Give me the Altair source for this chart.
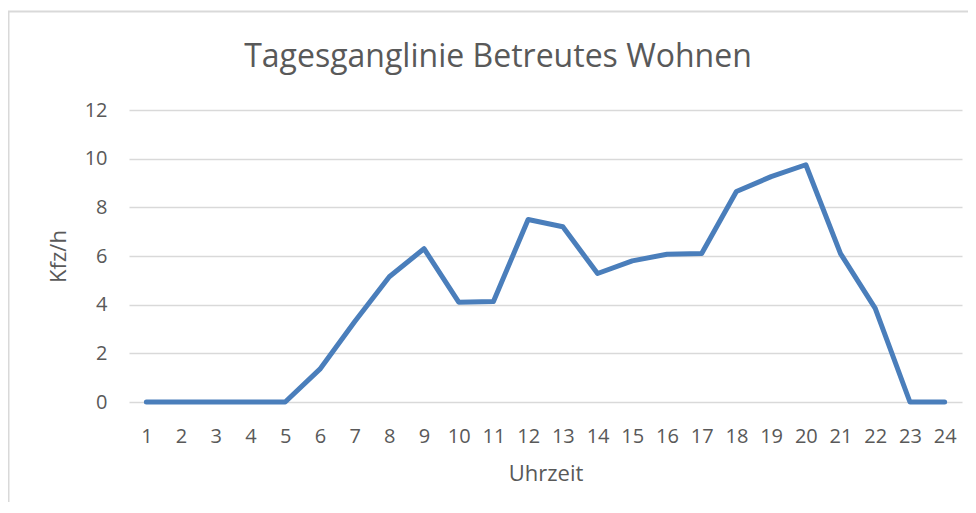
import altair as alt
import pandas as pd

hours = [str(h) for h in range(1, 25)]
kfz_per_h = [0, 0, 0, 0, 0, 1.35, 3.3, 5.15, 6.3, 4.1, 4.13, 7.5, 7.2, 5.28,
             5.8, 6.07, 6.1, 8.65, 9.26, 9.75, 6.1, 3.85, 0, 0]

title_text = "Tagesganglinie Betreutes Wohnen"
x_title = "Uhrzeit"
y_title = "Kfz/h"

df = pd.DataFrame({"Uhrzeit": hours, "Kfz": kfz_per_h})

FONT = "Open Sans"
GREY = "#595959"

one = pd.DataFrame({"t": [title_text]})

border = alt.Chart(one).mark_rect(
    fill=None, stroke="#d9d9d9", strokeWidth=2
).encode(
    x=alt.value(-120.5), x2=alt.value(880), y=alt.value(-98.5), y2=alt.value(420)
)

title = alt.Chart(one).mark_text(
    font=FONT, fontSize=32, color=GREY, align="center", baseline="alphabetic"
).encode(
    text="t:N", x=alt.value(369), y=alt.value(-43)
)

line = alt.Chart(df).mark_line(
    color="#4a7ebb", strokeWidth=5, strokeCap="round", strokeJoin="round"
).encode(
    x=alt.X("Uhrzeit:O", sort=hours,
            scale=alt.Scale(type="point", padding=0.5),
            axis=alt.Axis(title=x_title, labelAngle=0, labelPadding=24,
                          titlePadding=17, ticks=False, domain=False, grid=False)),
    y=alt.Y("Kfz:Q", scale=alt.Scale(domain=[0, 12], nice=False),
            axis=alt.Axis(title=y_title, values=[0, 2, 4, 6, 8, 10, 12],
                          labelPadding=22, titlePadding=14, ticks=False,
                          domain=False, gridColor="#d9d9d9", gridWidth=1.5)),
)

chart = alt.layer(border, title, line).properties(
    width=833, height=292,
    autosize=alt.AutoSizeParams(type="none"),
    padding={"left": 121, "top": 102, "right": 6, "bottom": 100},
).configure_view(stroke=None).configure_axis(
    labelFont=FONT, titleFont=FONT, labelFontSize=20, titleFontSize=22,
    labelColor=GREY, titleColor=GREY, titleFontWeight="normal"
)

chart.save("out.html", embed_options={"renderer": "svg", "actions": False})
